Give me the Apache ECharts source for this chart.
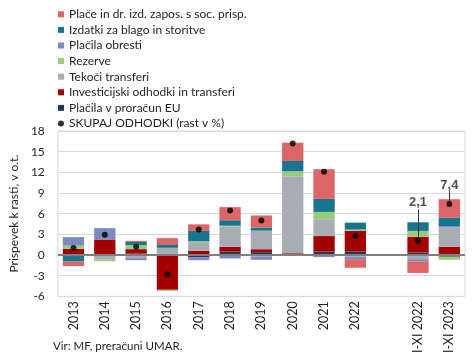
<!DOCTYPE html>
<html>
<head>
<meta charset="utf-8">
<script src="https://cdn.jsdelivr.net/npm/echarts@6/dist/echarts.min.js"></script>
<style>
html,body{margin:0;padding:0;background:#fff;}
#c{width:475px;height:356px;}
</style>
</head>
<body>
<div id="c"></div>
<script>
var categories = ['2013','2014','2015','2016','2017','2018','2019','2020','2021','2022','','I-XI 2022','I-XI 2023'];
var yTicks = {min: -6, max: 18, interval: 3};

var placilaEU   = [0.1, 0, 0.2, 0.2, -0.3, 0.5, 0.42, 0, 0.5, 0.5, '-', 0.35, -0.25];
var investicije = [0.8, 2.25, 0.65, -5.05, 0.6, 0.7, 0.42, 0.25, 2.25, 3.0, '-', 2.3, 1.2];
var tekoci      = [0, -0.7, -0.45, 0.85, 1.3, 2.95, 2.7, 11.2, 2.45, -0.3, '-', -0.6, 2.8];
var rezerve     = [0.45, -0.2, 0.6, -0.15, 0.1, 0.1, -0.2, 0.7, 1.05, 0.2, '-', 0.85, -0.45];
var obresti     = [1.25, 1.65, -0.3, 0, -0.45, -0.5, -0.5, 0, -0.3, -0.3, '-', -0.35, 0.2];
var izdatki     = [-0.95, 0, 0.45, 0.4, 1.5, 0.8, 0.45, 1.5, 1.9, 1.0, '-', 1.25, 1.2];
var place       = [-0.65, 0, 0.15, 1.0, 0.95, 1.9, 1.75, 2.65, 4.3, -1.25, '-', -1.65, 2.7];
var skupaj      = [1.0, 2.95, 1.2, -2.8, 3.7, 6.45, 5.0, 16.2, 12.1, 2.8, '-', 2.1, 7.4];

var labeled = [11, 12];           // indices of growth values shown as labels
var labelLift = {11: 38, 12: 19}; // label distance above dot (px)
var leader = {11: [0.5, 4.5], 12: [0.45, 1.85]}; // leader line extent above dot (value units)

var names = {
  place: 'Plače in dr. izd. zapos. s soc. prisp.',
  izdatki: 'Izdatki za blago in storitve',
  obresti: 'Plačila obresti',
  rezerve: 'Rezerve',
  tekoci: 'Tekoči transferi',
  invest: 'Investicijski odhodki in transferi',
  eu: 'Plačila v proračun EU',
  skupaj: 'SKUPAJ ODHODKI (rast v %)'
};
var colors = {
  place: '#dc6565', izdatki: '#187590', obresti: '#7b8bbd', rezerve: '#9acb7c',
  tekoci: '#a7adb3', invest: '#a30000', eu: '#293757'
};

var FONT = 'Lato';
var textColor = '#231f20';

function barSeries(key, data) {
  return {
    name: names[key], type: 'bar', stack: 'total', data: data,
    barWidth: '68%',
    itemStyle: {color: colors[key]},
    emphasis: {disabled: true}
  };
}

var scatterData = skupaj.map(function (v, i) {
  if (labeled.indexOf(i) >= 0) {
    return {
      value: v,
      label: {
        show: true, position: 'inside', offset: [0, -labelLift[i]],
        formatter: String(v).replace('.', ','),
        fontFamily: 'Liberation Sans', fontSize: 13, fontWeight: 'bold', color: textColor
      }
    };
  }
  return v;
});

var leaderLines = labeled.map(function (i) {
  return [
    {coord: [categories[i], skupaj[i] + leader[i][0]]},
    {coord: [categories[i], skupaj[i] + leader[i][1]]}
  ];
});

var option = {
  animation: false,
  textStyle: {fontFamily: FONT, color: textColor},
  legend: {
    orient: 'vertical', left: 53, top: 3,
    itemWidth: 6, itemHeight: 6, itemGap: 3,
    textStyle: {fontFamily: FONT, fontSize: 12, color: textColor, lineHeight: 12.6},
    data: [
      {name: names.place, icon: 'rect'},
      {name: names.izdatki, icon: 'rect'},
      {name: names.obresti, icon: 'rect'},
      {name: names.rezerve, icon: 'rect'},
      {name: names.tekoci, icon: 'rect'},
      {name: names.invest, icon: 'rect'},
      {name: names.eu, icon: 'rect'},
      {name: names.skupaj, icon: 'circle'}
    ],
    selectedMode: false
  },
  grid: {
    left: 51, right: 10, top: 131, bottom: 55,
    show: true, borderColor: '#d9d9d9', borderWidth: 1
  },
  xAxis: {
    type: 'category', data: categories,
    axisLine: {show: false}, axisTick: {show: false},
    axisLabel: {rotate: 90, fontSize: 12.5, fontFamily: FONT, color: textColor, margin: 5, interval: 0},
    splitLine: {show: false}
  },
  yAxis: {
    type: 'value', min: yTicks.min, max: yTicks.max, interval: yTicks.interval,
    name: 'Prispevek k rasti, v o.t.', nameLocation: 'middle', nameGap: 34,
    nameTextStyle: {fontSize: 12, fontFamily: FONT, color: textColor},
    axisLine: {show: false}, axisTick: {show: false},
    axisLabel: {fontSize: 12, fontFamily: FONT, color: textColor, margin: 13},
    splitLine: {lineStyle: {color: '#d9d9d9', width: 1}}
  },
  graphic: [{
    type: 'text', left: 53, top: 340,
    style: {text: 'Vir: MF, preračuni UMAR.', fontFamily: FONT, fontSize: 11.5, fill: textColor}
  }],
  series: [
    barSeries('eu', placilaEU),
    barSeries('invest', investicije),
    barSeries('tekoci', tekoci),
    barSeries('rezerve', rezerve),
    barSeries('obresti', obresti),
    barSeries('izdatki', izdatki),
    barSeries('place', place),
    {
      name: names.skupaj, type: 'scatter', data: scatterData,
      symbol: 'circle', symbolSize: 6, z: 5,
      itemStyle: {color: '#000'},
      emphasis: {disabled: true},
      markLine: {
        silent: true, symbol: 'none', label: {show: false},
        lineStyle: {color: '#333', width: 1, type: 'solid'},
        data: leaderLines
      }
    },
    {
      name: 'zero', type: 'line', data: [], z: 4,
      markLine: {
        silent: true, symbol: 'none', label: {show: false},
        lineStyle: {color: '#7f7f7f', width: 2, type: 'solid'},
        data: [{yAxis: 0}]
      }
    }
  ]
};

var chart = echarts.init(document.getElementById('c'), null, {renderer: 'canvas'});
chart.setOption(option);
</script>
</body>
</html>
